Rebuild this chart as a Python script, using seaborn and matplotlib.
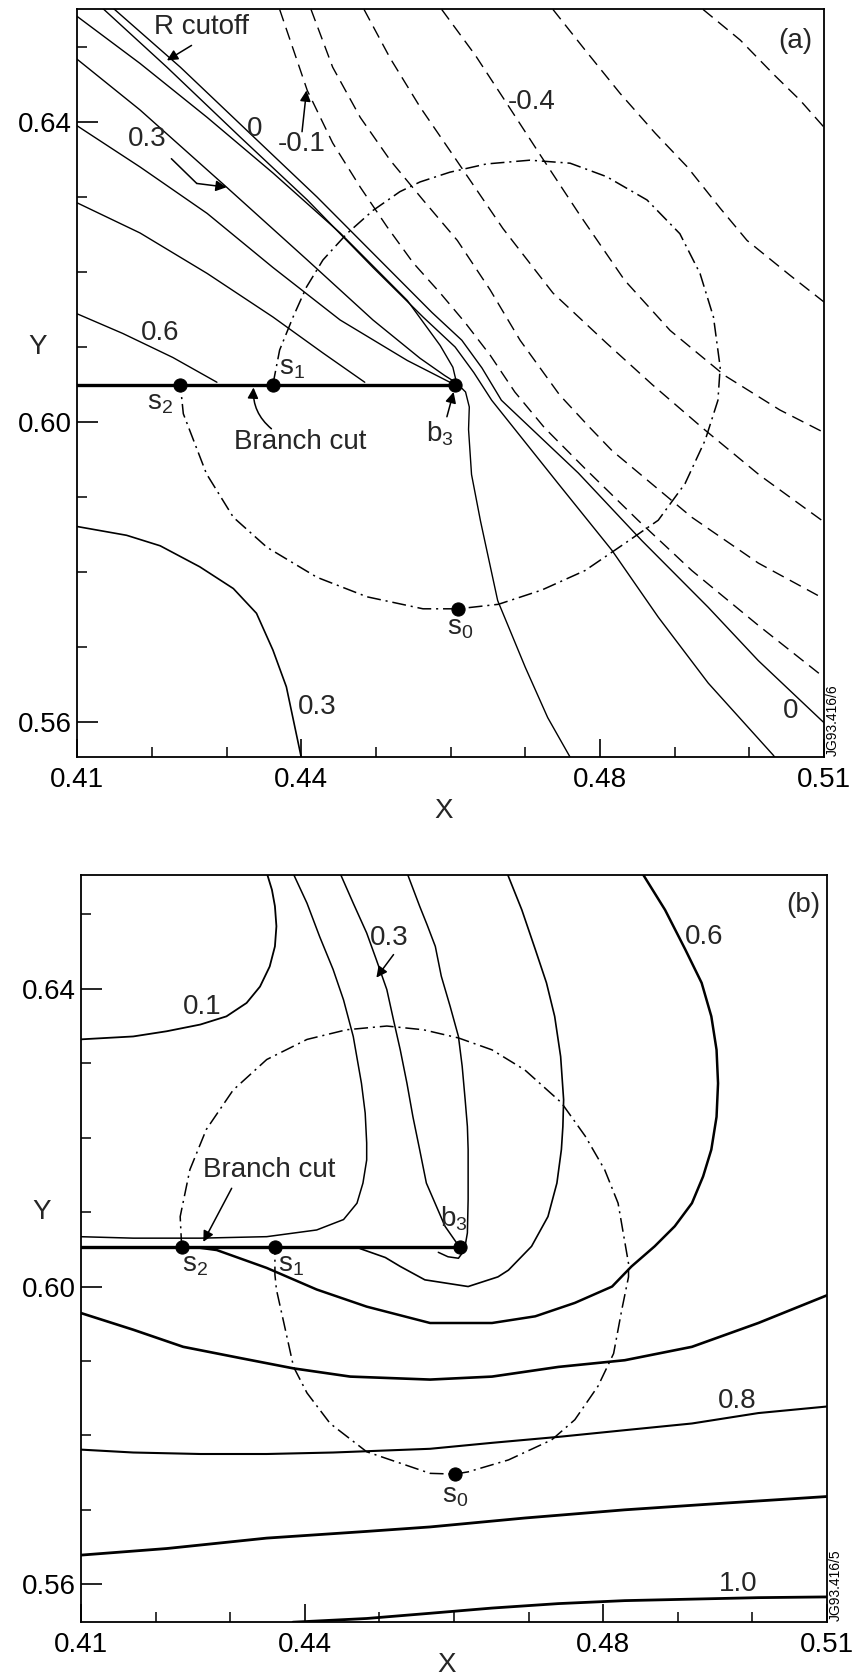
import matplotlib
matplotlib.use("Agg")
import matplotlib.pyplot as plt
import seaborn as sns

# ======================= DATA =======================
# ---- panel (a) : solid contours (upper left bundle) ----
a_rcut_x = [0.4129, 0.4220, 0.4318, 0.4408, 0.4496, 0.4563, 0.4606, 0.4631, 0.4655, 0.4744, 0.4816, 0.4878, 0.4945, 0.5032, 0.5038]
a_rcut_y = [0.6556, 0.6473, 0.6380, 0.6296, 0.6206, 0.6140, 0.6100, 0.6066, 0.6029, 0.5918, 0.5829, 0.5740, 0.5652, 0.5556, 0.5548]
a_zero_x = [0.4143, 0.4238, 0.4331, 0.4421, 0.4509, 0.4575, 0.4615, 0.4642, 0.4668, 0.4771, 0.4856, 0.4945, 0.5012, 0.5097, 0.5106]
a_zero_y = [0.6556, 0.6473, 0.6385, 0.6300, 0.6212, 0.6146, 0.6109, 0.6072, 0.6029, 0.5932, 0.5842, 0.5753, 0.5682, 0.5602, 0.5594]
a_c1_x = [0.4098, 0.4184, 0.4274, 0.4362, 0.4452, 0.4542, 0.4586, 0.4603, 0.4608]
a_c1_y = [0.6542, 0.6478, 0.6406, 0.6332, 0.6252, 0.6162, 0.6102, 0.6073, 0.6052]
a_c2_x = [0.4098, 0.4184, 0.4300, 0.4408, 0.4496, 0.4559, 0.4592, 0.4608]
a_c2_y = [0.6485, 0.6416, 0.6313, 0.6216, 0.6136, 0.6085, 0.6062, 0.6052]
a_c3_x = [0.4098, 0.4184, 0.4274, 0.4362, 0.4452, 0.4542, 0.4599]
a_c3_y = [0.6396, 0.6340, 0.6278, 0.6206, 0.6136, 0.6082, 0.6053]
a_c4_x = [0.4098, 0.4184, 0.4274, 0.4362, 0.4429, 0.4485]
a_c4_y = [0.6293, 0.6252, 0.6198, 0.6140, 0.6092, 0.6053]
a_c5_x = [0.4098, 0.4161, 0.4228, 0.4287]
a_c5_y = [0.6145, 0.6118, 0.6086, 0.6053]
# ---- panel (a) : solid contours below the cut ----
a_b3_x = [0.4608, 0.4620, 0.4625, 0.4624, 0.4628, 0.4640, 0.4663, 0.4700, 0.4730, 0.4763]
a_b3_y = [0.6052, 0.6040, 0.6020, 0.5990, 0.5930, 0.5868, 0.5762, 0.5673, 0.5606, 0.5548]
a_low_x = [0.4098, 0.4166, 0.4211, 0.4264, 0.4309, 0.4340, 0.4362, 0.4380, 0.4401]
a_low_y = [0.5861, 0.5849, 0.5835, 0.5807, 0.5778, 0.5745, 0.5696, 0.5647, 0.5548]
# ---- panel (a) : dashed (negative) contours ----
a_d1_x = [0.4371, 0.4408, 0.4442, 0.4479, 0.4515, 0.4550, 0.4586, 0.4619, 0.4653, 0.4686, 0.4726, 0.4780, 0.4851, 0.4923, 0.5012, 0.5097]
a_d1_y = [0.6550, 0.6442, 0.6372, 0.6313, 0.6260, 0.6212, 0.6172, 0.6133, 0.6089, 0.6040, 0.5992, 0.5938, 0.5869, 0.5802, 0.5729, 0.5662]
a_d2_x = [0.4413, 0.4442, 0.4479, 0.4519, 0.4563, 0.4609, 0.4653, 0.4693, 0.4746, 0.4787, 0.4816, 0.4923, 0.5012, 0.5097]
a_d2_y = [0.6550, 0.6473, 0.6406, 0.6349, 0.6296, 0.6242, 0.6176, 0.6109, 0.6036, 0.5992, 0.5962, 0.5873, 0.5812, 0.5766]
a_d3_x = [0.4484, 0.4519, 0.4559, 0.4603, 0.4670, 0.4737, 0.4809, 0.4871, 0.4941, 0.5014, 0.5097]
a_d3_y = [0.6550, 0.6485, 0.6420, 0.6356, 0.6258, 0.6172, 0.6105, 0.6049, 0.5989, 0.5929, 0.5869]
a_d4_x = [0.4588, 0.4633, 0.4675, 0.4720, 0.4773, 0.4833, 0.4894, 0.4967, 0.5041, 0.5100]
a_d4_y = [0.6550, 0.6489, 0.6425, 0.6356, 0.6276, 0.6189, 0.6122, 0.6062, 0.6016, 0.5986]
a_d5_x = [0.4737, 0.4780, 0.4827, 0.4874, 0.4917, 0.4961, 0.4997, 0.5054, 0.5100]
a_d5_y = [0.6550, 0.6496, 0.6438, 0.6385, 0.6340, 0.6285, 0.6242, 0.6196, 0.6160]
a_d6_x = [0.4938, 0.4988, 0.5034, 0.5068, 0.5100]
a_d6_y = [0.6550, 0.6509, 0.6462, 0.6429, 0.6393]
# ---- panel (a) : dash-dot path s1 -> top -> s0 -> s2 ----
a_path_x = [0.4362, 0.4371, 0.4389, 0.4407, 0.4429, 0.4461, 0.4496, 0.4532, 0.4559, 0.4599, 0.4648, 0.4706,
            0.4760, 0.4809, 0.4863, 0.4907, 0.4934, 0.4952, 0.4961, 0.4958, 0.4941, 0.4914, 0.4878, 0.4833,
            0.4780, 0.4722, 0.4664, 0.4610, 0.4563, 0.4488, 0.4421, 0.4354, 0.4309, 0.4273, 0.4242, 0.4238]
a_path_y = [0.6050, 0.6096, 0.6140, 0.6180, 0.6216, 0.6251, 0.6282, 0.6307, 0.6320, 0.6333, 0.6344, 0.6349,
            0.6345, 0.6327, 0.6296, 0.6251, 0.6198, 0.6140, 0.6073, 0.6029, 0.5976, 0.5918, 0.5869, 0.5838,
            0.5802, 0.5776, 0.5757, 0.5751, 0.5751, 0.5767, 0.5793, 0.5833, 0.5873, 0.5931, 0.6011, 0.6050]
a_cut_x = [0.4098, 0.4606]
a_cut_y = [0.6050, 0.6050]
a_pts_name = ["s2", "s1", "b3", "s0"]
a_pts_x = [0.4238, 0.4362, 0.4606, 0.4610]
a_pts_y = [0.6050, 0.6050, 0.6050, 0.5751]

# ---- panel (b) : solid contours ----
b_c1_x = [0.4098, 0.4170, 0.4215, 0.4260, 0.4295, 0.4322, 0.4340, 0.4353, 0.4360, 0.4362, 0.4360, 0.4356, 0.4349]
b_c1_y = [0.6332, 0.6336, 0.6343, 0.6352, 0.6363, 0.6381, 0.6403, 0.6430, 0.6457, 0.6484, 0.6511, 0.6533, 0.6556]
b_c2_x = [0.4098, 0.4170, 0.4260, 0.4349, 0.4416, 0.4452, 0.4470, 0.4478, 0.4483, 0.4483, 0.4481, 0.4476, 0.4465,
          0.4452, 0.4438, 0.4420, 0.4403, 0.4384]
b_c2_y = [0.6067, 0.6065, 0.6065, 0.6067, 0.6076, 0.6090, 0.6112, 0.6139, 0.6170, 0.6193, 0.6233, 0.6273, 0.6336,
          0.6385, 0.6426, 0.6470, 0.6515, 0.6556]
b_c3l_x = [0.4447, 0.4465, 0.4483, 0.4496, 0.4510, 0.4519, 0.4528, 0.4537, 0.4545, 0.4554, 0.4563, 0.4588, 0.4604]
b_c3l_y = [0.6556, 0.6515, 0.6475, 0.6439, 0.6399, 0.6358, 0.6318, 0.6273, 0.6228, 0.6184, 0.6139, 0.6081, 0.6058]
b_c3r_x = [0.4537, 0.4554, 0.4564, 0.4575, 0.4583, 0.4595, 0.4606, 0.4611, 0.4615, 0.4618, 0.4619, 0.4619, 0.4618,
           0.4614, 0.4606, 0.4592, 0.4579]
b_c3r_y = [0.6556, 0.6511, 0.6486, 0.6457, 0.6417, 0.6376, 0.6336, 0.6296, 0.6251, 0.6215, 0.6184, 0.6117, 0.6072,
           0.6049, 0.6038, 0.6040, 0.6046]
b_c4_x = [0.4474, 0.4508, 0.4528, 0.4561, 0.4619, 0.4659, 0.4673, 0.4704, 0.4726, 0.4738, 0.4744, 0.4746, 0.4747,
          0.4743, 0.4735, 0.4724, 0.4709, 0.4691, 0.4671]
b_c4_y = [0.6051, 0.6039, 0.6027, 0.6009, 0.6000, 0.6013, 0.6022, 0.6054, 0.6094, 0.6139, 0.6184, 0.6215, 0.6251,
          0.6309, 0.6363, 0.6408, 0.6453, 0.6506, 0.6556]
b_c5_x = [0.4260, 0.4282, 0.4349, 0.4416, 0.4483, 0.4568, 0.4605, 0.4651, 0.4709, 0.4762, 0.4812, 0.4838, 0.4869,
          0.4896, 0.4919, 0.4934, 0.4945, 0.4952, 0.4954, 0.4952, 0.4945, 0.4932, 0.4910, 0.4883, 0.4852]
b_c5_y = [0.6052, 0.6049, 0.6025, 0.5996, 0.5973, 0.5951, 0.5951, 0.5951, 0.5960, 0.5978, 0.6000, 0.6027, 0.6054,
          0.6081, 0.6112, 0.6148, 0.6184, 0.6228, 0.6273, 0.6318, 0.6363, 0.6408, 0.6453, 0.6506, 0.6556]
b_c6_x = [0.4098, 0.4170, 0.4237, 0.4313, 0.4385, 0.4461, 0.4568, 0.4651, 0.4740, 0.4829, 0.4919, 0.5008, 0.5102]
b_c6_y = [0.5965, 0.5942, 0.5919, 0.5904, 0.5890, 0.5879, 0.5875, 0.5879, 0.5892, 0.5901, 0.5919, 0.5951, 0.5989]
b_c8_x = [0.4098, 0.4170, 0.4260, 0.4349, 0.4438, 0.4568, 0.4651, 0.4740, 0.4829, 0.4919, 0.5008, 0.5102]
b_c8_y = [0.5781, 0.5777, 0.5775, 0.5775, 0.5777, 0.5782, 0.5790, 0.5798, 0.5807, 0.5816, 0.5830, 0.5839]
b_c9_x = [0.4098, 0.4215, 0.4349, 0.4483, 0.4568, 0.4695, 0.4829, 0.4963, 0.5102]
b_c9_y = [0.5639, 0.5648, 0.5662, 0.5671, 0.5677, 0.5689, 0.5700, 0.5709, 0.5718]
b_c10_x = [0.4384, 0.4483, 0.4568, 0.4651, 0.4740, 0.4829, 0.4919, 0.5008, 0.5102]
b_c10_y = [0.5549, 0.5554, 0.5561, 0.5568, 0.5574, 0.5578, 0.5580, 0.5582, 0.5583]
# ---- panel (b) : dash-dot path s2 -> top -> s0 -> s1 ----
b_path_x = [0.4235, 0.4233, 0.4246, 0.4268, 0.4304, 0.4349, 0.4403, 0.4456, 0.4510, 0.4559, 0.4606, 0.4651,
            0.4695, 0.4744, 0.4776, 0.4802, 0.4820, 0.4834, 0.4834, 0.4825, 0.4814, 0.4793, 0.4762, 0.4731,
            0.4673, 0.4619, 0.4601, 0.4568, 0.4483, 0.4434, 0.4403, 0.4385, 0.4372, 0.4362, 0.4360, 0.4360]
b_path_y = [0.6053, 0.6094, 0.6157, 0.6211, 0.6264, 0.6305, 0.6332, 0.6345, 0.6350, 0.6345, 0.6334, 0.6318,
            0.6291, 0.6247, 0.6202, 0.6157, 0.6112, 0.6031, 0.6013, 0.5969, 0.5910, 0.5866, 0.5821, 0.5794,
            0.5767, 0.5751, 0.5748, 0.5749, 0.5778, 0.5816, 0.5857, 0.5892, 0.5951, 0.5996, 0.6016, 0.6053]
b_cut_x = [0.4098, 0.4608]
b_cut_y = [0.6053, 0.6053]
b_pts_name = ["s2", "s1", "b3", "s0"]
b_pts_x = [0.4235, 0.4360, 0.4608, 0.4601]
b_pts_y = [0.6053, 0.6053, 0.6053, 0.5748]

# ---- axes ticks ----
x_major = [0.41, 0.44, 0.48, 0.51]
x_major_labels = ["0.41", "0.44", "0.48", "0.51"]
x_minor = [0.42, 0.43, 0.45, 0.46, 0.47, 0.49, 0.50]
y_major = [0.56, 0.60, 0.64]
y_major_labels = ["0.56", "0.60", "0.64"]
y_minor = [0.57, 0.58, 0.59, 0.61, 0.62, 0.63, 0.65]

# ======================= STYLE =======================
sns.set_theme(style="white")
plt.rcParams["font.family"] = ["Liberation Sans", "DejaVu Sans"]
plt.rcParams["mathtext.fontset"] = "custom"
plt.rcParams["mathtext.rm"] = "Liberation Sans"
plt.rcParams["mathtext.it"] = "Liberation Sans:italic"
plt.rcParams["lines.scale_dashes"] = False
plt.rcParams["lines.solid_joinstyle"] = "round"
plt.rcParams["lines.dash_joinstyle"] = "round"
plt.rcParams["axes.edgecolor"] = "black"
plt.rcParams["axes.linewidth"] = 1.2

K = "black"
DASH = (0, (9, 5))
DASHDOT = (0, (10, 3.5, 1.5, 3.5))
FS = 20


def curve(ax, xs, ys, lw=1.0, ls="-"):
    sns.lineplot(x=xs, y=ys, ax=ax, sort=False, estimator=None, color=K,
                 linewidth=lw, linestyle=ls, legend=False)


def arrow(ax, tail, tip, rad=0.0):
    ax.annotate("", xy=tip, xytext=tail,
                arrowprops=dict(arrowstyle="-|>", color=K, lw=1.1, mutation_scale=16,
                                shrinkA=0, shrinkB=0, connectionstyle=f"arc3,rad={rad}"))


def sub(base, idx):
    return r"$\mathregular{" + base + "_" + idx + "}$"


def style_axes(ax, ylim, xlabel_y, tag):
    ax.set_xlim(0.41, 0.51)
    ax.set_ylim(*ylim)
    ax.set_xticks(x_major)
    ax.set_xticklabels(x_major_labels)
    ax.set_xticks(x_minor, minor=True)
    ax.set_yticks(y_major)
    ax.set_yticklabels(y_major_labels)
    ax.set_yticks(y_minor, minor=True)
    ax.tick_params(axis="x", which="major", direction="in", length=13, width=1.2,
                   labelsize=FS, pad=7, colors=K, bottom=True, top=False)
    ax.tick_params(axis="y", which="major", direction="in", length=15, width=1.2,
                   labelsize=FS, pad=4, colors=K, left=True, right=False)
    ax.tick_params(which="minor", direction="in", length=7, width=1.1, colors=K,
                   bottom=True, left=True, top=False, right=False)
    for s in ax.spines.values():
        s.set_visible(True)
        s.set_color(K)
        s.set_linewidth(1.3)
    ax.set_xlabel("X", fontsize=FS)
    ax.xaxis.set_label_coords(0.49, xlabel_y)
    ax.set_ylabel("Y", fontsize=FS, rotation=0, va="center", ha="center")
    ax.yaxis.set_label_coords(-0.053, (0.610 - ylim[0]) / (ylim[1] - ylim[0]))
    ax.text(1.003, 0.05, tag, transform=ax.transAxes, rotation=90, fontsize=10,
            ha="left", va="center", color=K)
    ax.set_facecolor("white")


fig = plt.figure(figsize=(8.55, 16.8), dpi=100)
fig.patch.set_facecolor("white")

# ======================= PANEL (a) =======================
ax = fig.add_axes([0.0904, 0.5492, 0.8733, 0.4452])
for xs, ys in [(a_rcut_x, a_rcut_y), (a_zero_x, a_zero_y), (a_c1_x, a_c1_y), (a_c2_x, a_c2_y),
               (a_c3_x, a_c3_y), (a_c4_x, a_c4_y), (a_c5_x, a_c5_y), (a_b3_x, a_b3_y)]:
    curve(ax, xs, ys, lw=1.0)
curve(ax, a_low_x, a_low_y, lw=1.2)
for xs, ys in [(a_d1_x, a_d1_y), (a_d2_x, a_d2_y), (a_d3_x, a_d3_y),
               (a_d4_x, a_d4_y), (a_d5_x, a_d5_y), (a_d6_x, a_d6_y)]:
    curve(ax, xs, ys, lw=1.0, ls=DASH)
curve(ax, a_path_x, a_path_y, lw=1.1, ls=DASHDOT)
curve(ax, a_cut_x, a_cut_y, lw=2.4)
sns.scatterplot(x=a_pts_x, y=a_pts_y, ax=ax, color=K, s=90, edgecolor=K, zorder=5, legend=False)

ax.text(0.4266, 0.6526, "R cutoff", fontsize=FS, ha="center", va="center")
arrow(ax, (0.4253, 0.6502), (0.4220, 0.6482))
ax.text(0.4337, 0.6390, "0", fontsize=FS, ha="center", va="center")
ax.text(0.4401, 0.6371, "-0.1", fontsize=FS, ha="center", va="center")
arrow(ax, (0.4401, 0.6387), (0.4407, 0.6442))
ax.text(0.4193, 0.6377, "0.3", fontsize=FS, ha="center", va="center")
curve(ax, [0.4226, 0.4260], [0.6351, 0.6318], lw=1.1)
arrow(ax, (0.4260, 0.6318), (0.4300, 0.6313))
ax.text(0.4211, 0.6119, "0.6", fontsize=FS, ha="center", va="center")
ax.text(0.4387, 0.6072, sub("s", "1"), fontsize=FS, ha="center", va="center")
ax.text(0.4211, 0.6025, sub("s", "2"), fontsize=FS, ha="center", va="center")
ax.text(0.4398, 0.5973, "Branch cut", fontsize=FS, ha="center", va="center")
arrow(ax, (0.4360, 0.5991), (0.4336, 0.6046), rad=-0.25)
ax.text(0.4586, 0.5985, sub("b", "3"), fontsize=FS, ha="center", va="center")
arrow(ax, (0.4595, 0.6007), (0.4604, 0.6040))
ax.text(0.4613, 0.5725, sub("s", "0"), fontsize=FS, ha="center", va="center")
ax.text(0.4421, 0.5620, "0.3", fontsize=FS, ha="center", va="center")
ax.text(0.4709, 0.6427, "-0.4", fontsize=FS, ha="center", va="center")
ax.text(0.5055, 0.5615, "0", fontsize=FS, ha="center", va="center")
ax.text(0.5062, 0.6508, "(a)", fontsize=FS, ha="center", va="center")
style_axes(ax, (0.5553, 0.6550), -0.055, "JG93.416/6")

# ======================= PANEL (b) =======================
bx = fig.add_axes([0.0947, 0.0344, 0.8725, 0.4448])
curve(bx, b_c1_x, b_c1_y, lw=1.3)
curve(bx, b_c2_x, b_c2_y, lw=1.1)
curve(bx, b_c3l_x, b_c3l_y, lw=1.1)
curve(bx, b_c3r_x, b_c3r_y, lw=1.1)
curve(bx, b_c4_x, b_c4_y, lw=1.2)
curve(bx, b_c5_x, b_c5_y, lw=1.8)
curve(bx, b_c6_x, b_c6_y, lw=1.9)
curve(bx, b_c8_x, b_c8_y, lw=1.5)
curve(bx, b_c9_x, b_c9_y, lw=2.0)
curve(bx, b_c10_x, b_c10_y, lw=2.0)
curve(bx, b_path_x, b_path_y, lw=1.1, ls=DASHDOT)
curve(bx, b_cut_x, b_cut_y, lw=2.4)
sns.scatterplot(x=b_pts_x, y=b_pts_y, ax=bx, color=K, s=90, edgecolor=K, zorder=5, legend=False)

bx.text(0.5068, 0.6513, "(b)", fontsize=FS, ha="center", va="center")
bx.text(0.4936, 0.6470, "0.6", fontsize=FS, ha="center", va="center")
bx.text(0.4513, 0.6468, "0.3", fontsize=FS, ha="center", va="center")
arrow(bx, (0.4519, 0.6446), (0.4496, 0.6415))
bx.text(0.4263, 0.6376, "0.1", fontsize=FS, ha="center", va="center")
bx.text(0.4352, 0.6157, "Branch cut", fontsize=FS, ha="center", va="center")
arrow(bx, (0.4302, 0.6132), (0.4264, 0.6060))
bx.text(0.4253, 0.6029, sub("s", "2"), fontsize=FS, ha="center", va="center")
bx.text(0.4382, 0.6029, sub("s", "1"), fontsize=FS, ha="center", va="center")
bx.text(0.4600, 0.6091, sub("b", "3"), fontsize=FS, ha="center", va="center")
bx.text(0.4601, 0.5718, sub("s", "0"), fontsize=FS, ha="center", va="center")
bx.text(0.4980, 0.5846, "0.8", fontsize=FS, ha="center", va="center")
bx.text(0.4981, 0.5601, "1.0", fontsize=FS, ha="center", va="center")
style_axes(bx, (0.5549, 0.6553), -0.040, "JG93.416/5")

fig.savefig("out.png", dpi=100, facecolor="white")
